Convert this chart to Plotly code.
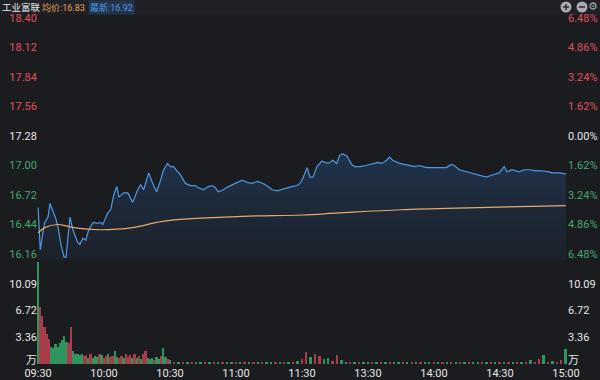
import plotly.graph_objects as go

# ---------------- data ----------------
stock_name = "工业富联"
avg_label = "均价:16.83"
last_label = "最新:16.92"
prev_close = 17.28

time_ticks = [0, 30, 60, 90, 120, 150, 180, 210, 240]
time_labels = ["09:30", "10:00", "10:30", "11:00", "11:30", "13:30", "14:00", "14:30", "15:00"]

price_ticks = [18.40, 18.12, 17.84, 17.56, 17.28, 17.00, 16.72, 16.44, 16.16]
pct_labels = ["6.48%", "4.86%", "3.24%", "1.62%", "0.00%", "1.62%", "3.24%", "4.86%", "6.48%"]
vol_ticks = [0.5, 3.36, 6.72, 10.09]
vol_labels = ["万", "3.36", "6.72", "10.09"]

price_min = [0, 1, 2, 3, 4.5, 5.4, 8, 9, 10.4, 11.8, 12.7, 14.5, 15.8, 18, 19, 20.4, 21.7, 23, 25, 27, 28.5,
             29.4, 31.7, 33, 34.4, 35.8, 36.7, 38.9, 40.8, 43, 45.3, 46.6, 48, 50.3, 52.1, 53.9, 55.7, 57.1,
             58.9, 60.2, 61.6, 63.4, 64.2, 65.7, 67, 69.3, 71.5, 72.9, 75.2, 77.4, 79.2, 80.6, 82, 84.2, 86.5,
             89.7, 92.8, 95.1, 97.4, 99.6, 102.3, 104.6, 106.4, 108.7, 111.4, 113.7, 115.5, 117.7, 119.1,
             120.4, 122.3, 123.6, 125, 126.8, 129, 130.4, 131.8, 134, 135.8, 137.2, 138.6, 140.4, 142.6, 144,
             146.3, 149, 150.8, 153, 154.4, 156.2, 158.5, 159.8, 161.2, 164.4, 168.9, 171.2, 173.4, 176.6,
             179.3, 182.5, 185.6, 187.9, 189.3, 191.5, 194.7, 197.4, 200.6, 203.8, 206.5, 209.7, 211.9,
             213.3, 215.5, 218.7, 221, 223.2, 226.4, 229.1, 232.3, 233.6, 236.8, 240]
price_val = [16.60, 16.20, 16.34, 16.46, 16.51, 16.64, 16.50, 16.42, 16.25, 16.13, 16.13, 16.51, 16.39, 16.27,
             16.25, 16.31, 16.29, 16.39, 16.46, 16.45, 16.46, 16.44, 16.55, 16.58, 16.72, 16.80, 16.70, 16.74,
             16.74, 16.65, 16.77, 16.82, 16.77, 16.93, 16.83, 16.75, 16.86, 16.96, 17.02, 16.99, 16.99, 16.94,
             16.93, 16.88, 16.83, 16.81, 16.81, 16.79, 16.77, 16.80, 16.81, 16.79, 16.75, 16.77, 16.80, 16.83,
             16.86, 16.84, 16.83, 16.85, 16.83, 16.80, 16.77, 16.76, 16.78, 16.79, 16.80, 16.81, 16.83, 16.88,
             16.98, 16.89, 16.89, 16.99, 17.04, 17.03, 17.02, 17.05, 17.02, 17.10, 17.11, 17.09, 17.01, 16.99,
             16.99, 17.00, 17.01, 17.02, 17.03, 17.02, 17.05, 17.08, 17.05, 17.02, 17.00, 16.99, 17.00, 16.98,
             16.98, 16.98, 16.98, 17.01, 17.00, 16.96, 16.94, 16.93, 16.91, 16.89, 16.91, 16.93, 16.99, 16.94,
             16.96, 16.94, 16.96, 16.96, 16.95, 16.95, 16.94, 16.93, 16.93, 16.92]

avg_min = [0, 3, 9, 14, 20, 28, 43, 54, 60, 74, 96, 120, 137, 165, 200, 240]
avg_val = [16.36, 16.41, 16.44, 16.42, 16.40, 16.39, 16.41, 16.46, 16.48, 16.50, 16.52, 16.53, 16.55,
           16.58, 16.60, 16.62]

vol_min = list(range(0, 60)) + list(range(60, 241, 2))
vol_val = [12.9, 7.2, 6.0, 4.6, 3.8, 3.2, 2.2, 2.0, 2.5, 2.1, 2.6, 3.0, 3.5, 2.8, 2.7, 4.6, 1.6, 1.3, 1.2, 1.1,
           1.2, 1.0, 1.1, 0.8, 1.2, 0.7, 1.0, 0.9, 1.3, 1.1, 0.8, 1.0, 1.2, 0.9, 1.0, 1.6, 0.9, 0.7, 1.0, 0.8,
           1.2, 0.9, 1.1, 0.7, 1.3, 0.8, 1.0, 0.6, 1.2, 1.6, 0.8, 0.6, 0.7, 0.5, 0.9, 0.6, 1.0, 2.0, 0.9, 0.6,
           # 60 .. 240 every 2 minutes
           0.5, 0.3, 0.3, 0.2, 0.3, 0.2, 0.3, 0.2, 0.2, 0.3, 0.2, 0.3, 0.2, 0.2, 0.3, 0.2, 0.3, 0.2, 0.2, 0.3,
           0.2, 0.3, 0.2, 0.2, 0.3, 0.3, 0.2, 0.2, 0.3, 0.4, 0.6, 1.5, 0.9, 1.2, 1.0, 0.6, 0.7, 0.4, 1.1, 0.5,
           0.3, 0.3, 0.2, 0.3, 0.2, 0.2, 0.3, 0.2, 0.2, 0.3, 0.2, 0.2, 0.3, 0.2, 0.2, 0.2, 0.3, 0.2, 0.2, 0.3,
           0.2, 0.2, 0.3, 0.2, 0.3, 0.2, 0.2, 0.3, 0.2, 0.2, 0.3, 0.2, 0.2, 0.3, 0.2, 0.3, 0.2, 0.2, 0.3, 0.2,
           0.3, 0.2, 0.5, 0.3, 0.6, 1.1, 0.3, 0.4, 0.3, 0.5, 1.9]
vol_up = [0, 1, 1, 1, 1, 1, 0, 0, 0, 0, 0, 0, 0, 0, 1, 1, 0, 0, 0, 0,
          0, 1, 1, 0, 1, 0, 0, 0, 1, 0, 1, 1, 0, 1, 1, 0, 0, 1, 1, 0,
          1, 1, 1, 0, 1, 0, 1, 0, 1, 1, 0, 0, 0, 1, 0, 0, 1, 0, 0, 1,
          0, 1, 0, 1, 0, 1, 0, 0, 1, 0, 1, 0, 1, 0, 0, 1, 0, 1, 0, 1,
          0, 1, 0, 0, 1, 0, 1, 0, 1, 0, 1, 1, 0, 1, 1, 0, 0, 1, 1, 0,
          0, 1, 0, 1, 0, 0, 1, 0, 1, 0, 1, 0, 0, 1, 0, 1, 0, 1, 0, 0,
          1, 0, 1, 0, 1, 0, 1, 0, 1, 0, 0, 1, 0, 1, 0, 1, 0, 1, 0, 1,
          0, 1, 0, 1, 1, 0, 1, 0, 1, 1, 0]

# ---------------- style ----------------
BG = "#1b1c20"
RED = "#e0505c"
GREEN = "#43a868"
BAR_RED = "#a83c4a"
BAR_GREEN = "#2f955e"
WHITE = "#e6e6e6"
LINE_BLUE = "#4d98e2"
AVG_ORANGE = "#e6a86a"
FONT = "Roboto, 'Noto Sans CJK SC', sans-serif"

P_LO, P_HI = 16.103, 18.41
V_HI = 12.82

def tick_color(i, n):
    mid = n // 2
    return RED if i < mid else (WHITE if i == mid else GREEN)

left_text = [f'<span style="color:{tick_color(i, len(price_ticks))}">{v:.2f}</span>'
             for i, v in enumerate(price_ticks)]
right_text = [f'<span style="color:{tick_color(i, len(pct_labels))}">{t}</span>'
              for i, t in enumerate(pct_labels)]

fig = go.Figure()

# baseline for the gradient fill (bottom of the price pane)
fig.add_trace(go.Scatter(x=[time_ticks[0], time_ticks[-1]], y=[P_LO, P_LO], mode="lines",
                         line=dict(width=0), hoverinfo="skip", showlegend=False,
                         xaxis="x", yaxis="y"))
fig.add_trace(go.Scatter(
    x=price_min, y=price_val, mode="lines", line=dict(color=LINE_BLUE, width=1.2),
    fill="tonexty",
    fillgradient=dict(type="vertical",
                      colorscale=[[0, "rgba(30,40,55,0.45)"], [1, "rgba(34,62,96,0.7)"]]),
    showlegend=False, xaxis="x", yaxis="y"))
fig.add_trace(go.Scatter(x=avg_min, y=avg_val, mode="lines", line=dict(color=AVG_ORANGE, width=1.2),
                         line_shape="spline", showlegend=False, xaxis="x", yaxis="y"))

fig.add_trace(go.Bar(x=vol_min, y=vol_val, width=0.85,
                     marker=dict(color=[BAR_RED if u else BAR_GREEN for u in vol_up], line=dict(width=0)),
                     showlegend=False, xaxis="x", yaxis="y2"))
# invisible traces to activate right-hand axes
fig.add_trace(go.Scatter(x=[0], y=[prev_close], mode="markers", marker=dict(opacity=0),
                         showlegend=False, hoverinfo="skip", xaxis="x", yaxis="y3"))
fig.add_trace(go.Scatter(x=[0], y=[0], mode="markers", marker=dict(opacity=0),
                         showlegend=False, hoverinfo="skip", xaxis="x", yaxis="y4"))

x0, x1 = 37 / 600, 567 / 600
price_dom = [(380 - 260) / 380, (380 - 17) / 380]
vol_dom = [(380 - 364) / 380, (380 - 262) / 380]

common_y = dict(showgrid=False, zeroline=False, showline=False, ticks="", automargin=False,
                tickfont=dict(size=11, color=WHITE))

fig.update_layout(
    width=600, height=380, margin=dict(l=0, r=0, t=0, b=0, autoexpand=False),
    paper_bgcolor=BG, plot_bgcolor=BG, font=dict(family=FONT, size=11, color=WHITE),
    hovermode=False, bargap=0, showlegend=False,
    xaxis=dict(domain=[x0, x1], range=[-0.5, 240.5], tickvals=time_ticks, ticktext=time_labels,
               showgrid=False, zeroline=False, showline=False, ticks="", anchor="y2", automargin=False,
               ticklabelstandoff=1, tickfont=dict(size=11, color=WHITE)),
    yaxis=dict(domain=price_dom, range=[P_LO, P_HI], tickvals=price_ticks, ticktext=left_text,
               anchor="free", position=x0, side="left", **common_y),
    yaxis3=dict(domain=price_dom, range=[P_LO, P_HI], tickvals=price_ticks, ticktext=right_text,
                overlaying="y", side="right", anchor="free", position=x1, **common_y),
    yaxis2=dict(domain=vol_dom, range=[0, V_HI], tickvals=vol_ticks, ticktext=vol_labels,
                anchor="free", position=x0, side="left", **common_y),
    yaxis4=dict(domain=vol_dom, range=[0, V_HI], tickvals=vol_ticks, ticktext=vol_labels,
                overlaying="y2", side="right", anchor="free", position=x1, **common_y),
)

# header strip
fig.add_shape(type="rect", xref="paper", yref="paper", x0=0, x1=1, y0=(380 - 15) / 380, y1=1,
              fillcolor="#202126", line=dict(width=0), layer="below")
HY = (380 - 7.5) / 380
fig.add_annotation(xref="paper", yref="paper", x=0.0, y=HY, text=stock_name,
                   showarrow=False, xanchor="left", yanchor="middle", font=dict(size=9.5, color=WHITE))
fig.add_annotation(xref="paper", yref="paper", x=40 / 600, y=HY, text=avg_label,
                   showarrow=False, xanchor="left", yanchor="middle", font=dict(size=9, color="#e0a355"))
fig.add_annotation(xref="paper", yref="paper", x=88 / 600, y=HY, text=last_label,
                   showarrow=False, xanchor="left", yanchor="middle", font=dict(size=9, color="#4a9be3"),
                   bgcolor="#23344a", borderpad=1)

# header icons (zoom in / zoom out / settings)
for cx, sym in [(566, "+"), (582, "-")]:
    fig.add_shape(type="circle", xref="paper", yref="paper",
                  x0=(cx - 5.5) / 600, x1=(cx + 5.5) / 600, y0=(380 - 12.5) / 380, y1=(380 - 1.5) / 380,
                  fillcolor="#a9abb2", line=dict(width=0))
    fig.add_shape(type="line", xref="paper", yref="paper", x0=(cx - 3) / 600, x1=(cx + 3) / 600,
                  y0=(380 - 7) / 380, y1=(380 - 7) / 380, line=dict(color="#2a2b30", width=1.5))
    if sym == "+":
        fig.add_shape(type="line", xref="paper", yref="paper", x0=cx / 600, x1=cx / 600,
                      y0=(380 - 10) / 380, y1=(380 - 4) / 380, line=dict(color="#2a2b30", width=1.5))
fig.add_annotation(xref="paper", yref="paper", x=1.0, y=(380 - 6.5) / 380, text="⚙", showarrow=False,
                   xanchor="right", yanchor="middle", font=dict(size=11, color="#a9abb2", family="DejaVu Sans"))

fig.write_html("out.html", config={"displayModeBar": False})
